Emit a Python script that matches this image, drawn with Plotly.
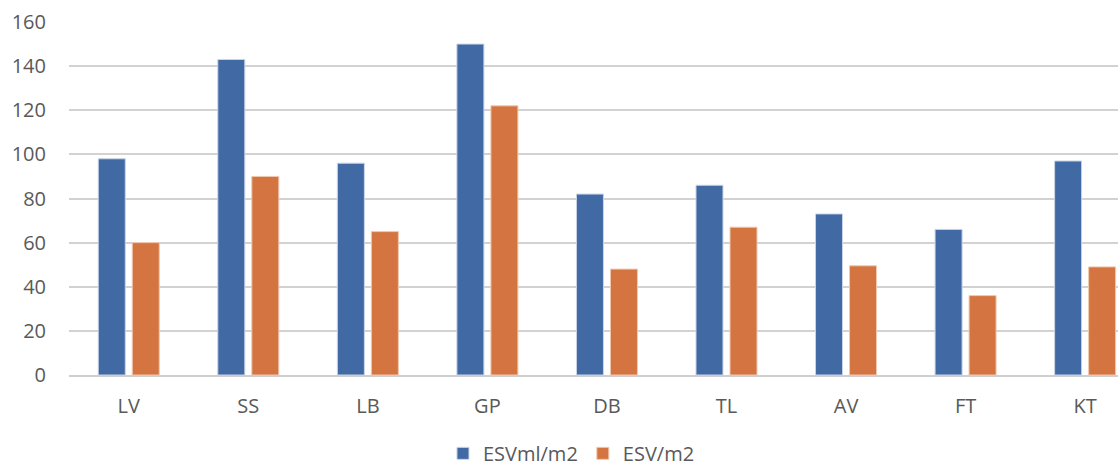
import plotly.graph_objects as go

categories = ["LV", "SS", "LB", "GP", "DB", "TL", "AV", "FT", "KT"]
esv_ml_m2 = [98, 143, 96, 150, 82, 86, 73, 66, 97]
esv_m2 = [60, 90, 65, 122, 48, 67, 49.5, 36, 49]
y_ticks = [0, 20, 40, 60, 80, 100, 120, 140, 160]

blue = "#416aa4"
orange = "#d47541"
font_family = "Open Sans, Noto Sans, Liberation Sans, sans-serif"

fig = go.Figure()
fig.add_trace(go.Bar(name="ESVml/m2", x=categories, y=esv_ml_m2,
                     marker=dict(color=blue, line=dict(color="#c9d4e8", width=1))))
fig.add_trace(go.Bar(name="ESV/m2", x=categories, y=esv_m2,
                     marker=dict(color=orange, line=dict(color="#f0c8b0", width=1))))

fig.update_layout(
    width=1118, height=468,
    margin=dict(l=69, r=0, t=22, b=93, autoexpand=False),
    paper_bgcolor="white", plot_bgcolor="white",
    barmode="group", bargap=0.431, bargroupgap=0.206,
    font=dict(family=font_family, size=20, color="#595959"),
    legend=dict(orientation="h", x=0.479, xanchor="center", y=-0.222, yanchor="middle",
                font=dict(size=20, color="#595959"), traceorder="normal"),
    xaxis=dict(range=[-0.5, 8.275], showgrid=False, showline=True, linecolor="#cfcfcf",
               linewidth=1.5, ticks="", tickfont=dict(size=20, color="#595959"),
               ticklabelstandoff=12, automargin=False),
    yaxis=dict(range=[0, 160], tickvals=y_ticks, showgrid=True, gridcolor="#d2d2d2",
               gridwidth=1.5, zeroline=False, showline=False, ticks="",
               tickfont=dict(size=20, color="#595959"), ticklabelstandoff=22,
               automargin=False),
)

fig.write_html(
    "out.html",
    config={"displayModeBar": False},
    post_script="document.body.style.margin='0';document.body.style.overflow='hidden';",
)
